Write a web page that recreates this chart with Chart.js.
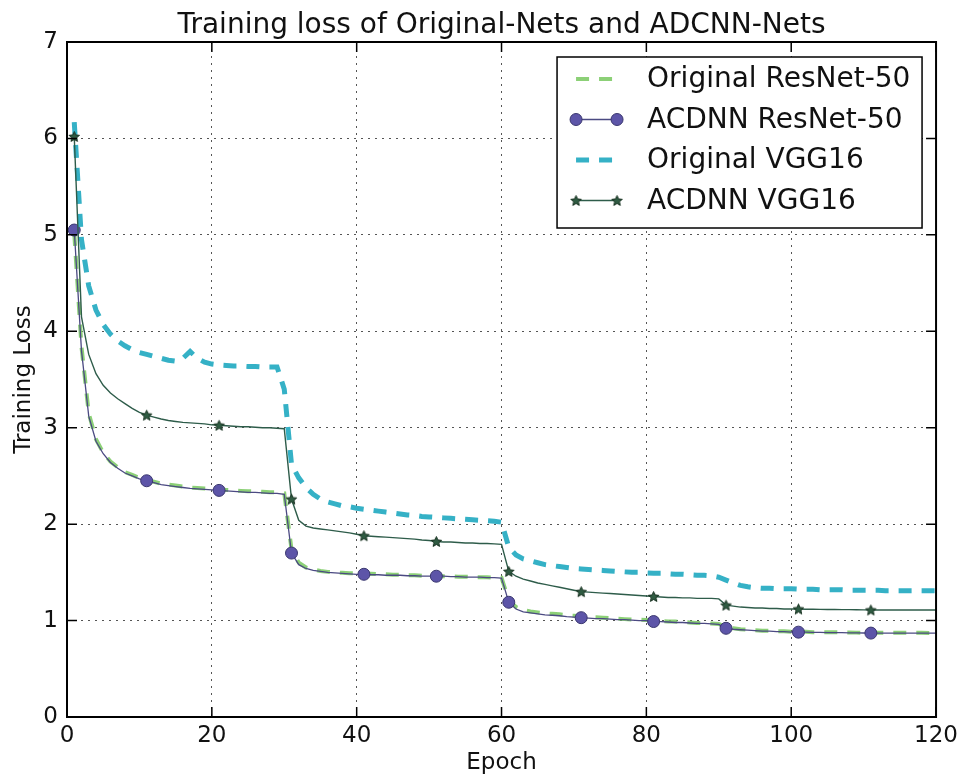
<!DOCTYPE html>
<html>
<head>
<meta charset="utf-8">
<script src="https://cdn.jsdelivr.net/npm/chart.js@4/dist/chart.umd.min.js"></script>
<style>
  body { margin: 0; background: #fff; }
  #wrap { width: 963px; height: 778px; }
</style>
</head>
<body>
<div id="wrap"><canvas id="lossChart" width="963" height="778"></canvas></div>
<script>
const epochs = [
  1, 2, 3, 4, 5, 6, 7, 8, 9, 10, 11, 12, 13, 14, 15, 16, 17, 18, 19, 20,
  21, 22, 23, 24, 25, 26, 27, 28, 29, 30, 31, 32, 33, 34, 35, 36, 37, 38, 39, 40,
  41, 42, 43, 44, 45, 46, 47, 48, 49, 50, 51, 52, 53, 54, 55, 56, 57, 58, 59, 60,
  61, 62, 63, 64, 65, 66, 67, 68, 69, 70, 71, 72, 73, 74, 75, 76, 77, 78, 79, 80,
  81, 82, 83, 84, 85, 86, 87, 88, 89, 90, 91, 92, 93, 94, 95, 96, 97, 98, 99, 100,
  101, 102, 103, 104, 105, 106, 107, 108, 109, 110, 111, 112, 113, 114, 115, 116, 117, 118, 119, 120
];

const originalResnet = [
  5.02, 3.84, 3.15, 2.88, 2.74, 2.65, 2.59, 2.54, 2.51, 2.48,
  2.46, 2.44, 2.42, 2.41, 2.40, 2.39, 2.38, 2.375, 2.37, 2.365,
  2.36, 2.355, 2.35, 2.345, 2.34, 2.34, 2.335, 2.33, 2.33, 2.32,
  1.74, 1.60, 1.55, 1.53, 1.515, 1.505, 1.50, 1.495, 1.49, 1.49,
  1.485, 1.485, 1.48, 1.48, 1.475, 1.475, 1.47, 1.47, 1.465, 1.465,
  1.46, 1.46, 1.46, 1.455, 1.455, 1.45, 1.45, 1.45, 1.445, 1.445,
  1.21, 1.14, 1.11, 1.095, 1.085, 1.075, 1.07, 1.065, 1.055, 1.05,
  1.045, 1.04, 1.035, 1.03, 1.025, 1.02, 1.015, 1.01, 1.01, 1.005,
  1.0, 0.995, 0.99, 0.99, 0.985, 0.98, 0.975, 0.975, 0.97, 0.965,
  0.93, 0.92, 0.91, 0.905, 0.90, 0.895, 0.895, 0.89, 0.89, 0.885,
  0.885, 0.885, 0.88, 0.88, 0.88, 0.878, 0.877, 0.876, 0.875, 0.875,
  0.875, 0.875, 0.874, 0.874, 0.874, 0.873, 0.873, 0.873, 0.872, 0.872
];

const acdnnResnet = [
  5.05, 3.80, 3.12, 2.86, 2.73, 2.64, 2.58, 2.53, 2.50, 2.47,
  2.45, 2.43, 2.41, 2.40, 2.39, 2.38, 2.37, 2.365, 2.36, 2.355,
  2.35, 2.345, 2.34, 2.335, 2.33, 2.33, 2.325, 2.32, 2.32, 2.31,
  1.70, 1.58, 1.54, 1.52, 1.51, 1.50, 1.495, 1.49, 1.485, 1.48,
  1.48, 1.475, 1.475, 1.47, 1.47, 1.47, 1.465, 1.465, 1.46, 1.46,
  1.46, 1.46, 1.455, 1.455, 1.45, 1.45, 1.45, 1.445, 1.445, 1.44,
  1.19, 1.12, 1.09, 1.08, 1.07, 1.06, 1.055, 1.05, 1.04, 1.035,
  1.03, 1.025, 1.02, 1.02, 1.015, 1.01, 1.01, 1.005, 1.0, 1.0,
  0.99, 0.99, 0.985, 0.98, 0.98, 0.975, 0.97, 0.97, 0.965, 0.96,
  0.92, 0.91, 0.905, 0.90, 0.895, 0.89, 0.89, 0.885, 0.885, 0.88,
  0.88, 0.88, 0.878, 0.877, 0.876, 0.875, 0.874, 0.873, 0.872, 0.871,
  0.87, 0.87, 0.87, 0.87, 0.87, 0.87, 0.87, 0.87, 0.87, 0.87
];

const originalVgg = [
  6.17, 4.95, 4.47, 4.22, 4.07, 3.97, 3.90, 3.85, 3.81, 3.78,
  3.76, 3.74, 3.72, 3.70, 3.69, 3.72, 3.79, 3.72, 3.68, 3.66,
  3.65, 3.645, 3.64, 3.64, 3.635, 3.635, 3.63, 3.63, 3.63, 3.40,
  2.62, 2.48, 2.38, 2.31, 2.26, 2.23, 2.21, 2.19, 2.18, 2.165,
  2.155, 2.145, 2.135, 2.125, 2.115, 2.105, 2.095, 2.09, 2.08, 2.075,
  2.07, 2.065, 2.06, 2.055, 2.05, 2.045, 2.04, 2.035, 2.03, 2.02,
  1.76, 1.68, 1.64, 1.62, 1.60, 1.58, 1.57, 1.56, 1.55, 1.54,
  1.535, 1.53, 1.525, 1.52, 1.515, 1.51, 1.505, 1.50, 1.50, 1.495,
  1.49, 1.49, 1.485, 1.48, 1.48, 1.475, 1.47, 1.47, 1.465, 1.45,
  1.42, 1.39, 1.365, 1.35, 1.34, 1.335, 1.335, 1.33, 1.33, 1.33,
  1.325, 1.325, 1.325, 1.32, 1.32, 1.32, 1.32, 1.315, 1.315, 1.315,
  1.315, 1.315, 1.31, 1.31, 1.31, 1.31, 1.31, 1.31, 1.31, 1.31
];

const acdnnVgg = [
  6.02, 4.15, 3.76, 3.56, 3.44, 3.36, 3.30, 3.25, 3.20, 3.16,
  3.13, 3.11, 3.09, 3.075, 3.065, 3.055, 3.05, 3.045, 3.04, 3.03,
  3.025, 3.02, 3.015, 3.01, 3.01, 3.005, 3.0, 3.0, 2.995, 2.99,
  2.26, 2.04, 1.98, 1.96, 1.95, 1.94, 1.93, 1.92, 1.91, 1.895,
  1.88, 1.875, 1.87, 1.865, 1.86, 1.855, 1.85, 1.845, 1.835, 1.83,
  1.82, 1.815, 1.815, 1.81, 1.805, 1.805, 1.80, 1.80, 1.795, 1.79,
  1.51, 1.46, 1.43, 1.41, 1.39, 1.375, 1.36, 1.345, 1.33, 1.315,
  1.30, 1.295, 1.29, 1.285, 1.28, 1.275, 1.27, 1.265, 1.26, 1.255,
  1.25, 1.245, 1.24, 1.24, 1.235, 1.235, 1.23, 1.23, 1.23, 1.225,
  1.16, 1.15, 1.14, 1.135, 1.13, 1.13, 1.125, 1.125, 1.12, 1.12,
  1.12, 1.118, 1.117, 1.116, 1.115, 1.115, 1.114, 1.113, 1.112, 1.111,
  1.11, 1.11, 1.11, 1.11, 1.11, 1.11, 1.11, 1.11, 1.11, 1.11
];

const seriesLabels = ["Original ResNet-50", "ACDNN ResNet-50", "Original VGG16", "ACDNN VGG16"];
const chartTitle = "Training loss of Original-Nets and ADCNN-Nets";
const xTicks = [0, 20, 40, 60, 80, 100, 120];
const yTicks = [0, 1, 2, 3, 4, 5, 6, 7];

const FONT = "'DejaVu Sans', 'Liberation Sans', sans-serif";

function makeStar(r, fill, stroke) {
  const c = document.createElement("canvas");
  const s = Math.ceil(r * 2 + 4);
  c.width = s;
  c.height = s;
  const g = c.getContext("2d");
  g.translate(s / 2, s / 2 + 0.5);
  g.beginPath();
  for (let i = 0; i < 10; i++) {
    const rad = i % 2 ? r * 0.45 : r;
    const a = -Math.PI / 2 + i * Math.PI / 5;
    g.lineTo(rad * Math.cos(a), rad * Math.sin(a));
  }
  g.closePath();
  g.fillStyle = fill;
  g.fill();
  g.strokeStyle = stroke;
  g.lineWidth = 1;
  g.stroke();
  return c;
}

const starImg = makeStar(5.5, "#2f5b42", "#16301f");

function toPoints(values) {
  return values.map((v, i) => ({ x: epochs[i], y: v }));
}

// markers every 10 epochs, starting at epoch 1
const everyTen = ctx => (ctx.dataIndex % 10 === 0 ? 6 : 0);

const datasets = [
  {
    label: seriesLabels[0],
    data: toPoints(originalResnet),
    borderColor: "rgba(120, 200, 95, 0.85)",
    borderWidth: 4,
    borderDash: [13, 10],
    pointRadius: 0,
    order: 4
  },
  {
    label: seriesLabels[1],
    data: toPoints(acdnnResnet),
    borderColor: "#4b4a82",
    borderWidth: 1.3,
    pointStyle: "circle",
    pointRadius: everyTen,
    pointBackgroundColor: "#5d55a8",
    pointBorderColor: "#3a376f",
    pointBorderWidth: 1,
    order: 3
  },
  {
    label: seriesLabels[2],
    data: toPoints(originalVgg),
    borderColor: "#35b1c6",
    borderWidth: 5,
    borderDash: [13, 10],
    pointRadius: 0,
    order: 2
  },
  {
    label: seriesLabels[3],
    data: toPoints(acdnnVgg),
    borderColor: "#2e5c4a",
    borderWidth: 1.4,
    pointStyle: starImg,
    pointRadius: everyTen,
    order: 1
  }
];

// matplotlib-like frame with inward ticks, title centred over the axes
const framePlugin = {
  id: "frame",
  afterDatasetsDraw(chart) {
    const { ctx, chartArea: a, scales } = chart;
    ctx.save();
    ctx.strokeStyle = "#000";
    ctx.lineWidth = 1.5;
    ctx.beginPath();
    xTicks.forEach(t => {
      const x = scales.x.getPixelForValue(t);
      ctx.moveTo(x, a.bottom); ctx.lineTo(x, a.bottom - 10);
      ctx.moveTo(x, a.top); ctx.lineTo(x, a.top + 10);
    });
    yTicks.forEach(t => {
      const y = scales.y.getPixelForValue(t);
      ctx.moveTo(a.left, y); ctx.lineTo(a.left + 10, y);
      ctx.moveTo(a.right, y); ctx.lineTo(a.right - 10, y);
    });
    ctx.stroke();
    ctx.lineWidth = 2;
    ctx.strokeRect(a.left, a.top, a.right - a.left, a.bottom - a.top);

    ctx.fillStyle = "#111";
    ctx.font = "28px " + FONT;
    ctx.textAlign = "center";
    ctx.textBaseline = "alphabetic";
    ctx.fillText(chartTitle, (a.left + a.right) / 2, a.top - 9);
    ctx.restore();
  }
};

const legendPlugin = {
  id: "boxLegend",
  afterDraw(chart) {
    const { ctx, chartArea: a } = chart;
    const left = a.right - 379;
    const top = a.top + 15;
    const w = 365;
    const h = 171;
    ctx.save();
    ctx.fillStyle = "#fff";
    ctx.fillRect(left, top, w, h);
    ctx.strokeStyle = "#000";
    ctx.lineWidth = 1.5;
    ctx.strokeRect(left, top, w, h);

    chart.data.datasets.forEach((ds, i) => {
      const y = top + 22 + i * 40.5;
      const x0 = left + 19;
      const x1 = left + 60;
      ctx.save();
      ctx.strokeStyle = ds.borderColor;
      ctx.lineWidth = ds.borderWidth;
      ctx.setLineDash(ds.borderDash || []);
      ctx.beginPath();
      ctx.moveTo(x0, y);
      ctx.lineTo(x1, y);
      ctx.stroke();
      ctx.restore();

      if (ds.pointStyle === "circle") {
        [x0, x1].forEach(x => {
          ctx.beginPath();
          ctx.arc(x, y, 6, 0, Math.PI * 2);
          ctx.fillStyle = ds.pointBackgroundColor;
          ctx.fill();
          ctx.strokeStyle = ds.pointBorderColor;
          ctx.lineWidth = 1;
          ctx.stroke();
        });
      } else if (ds.pointStyle instanceof HTMLCanvasElement) {
        const img = ds.pointStyle;
        [x0, x1].forEach(x => {
          ctx.drawImage(img, x - img.width / 2, y - img.height / 2);
        });
      }

      ctx.fillStyle = "#111";
      ctx.font = "28px " + FONT;
      ctx.textBaseline = "middle";
      ctx.textAlign = "left";
      ctx.fillText(ds.label, left + 90, y + 1);
    });
    ctx.restore();
  }
};

new Chart(document.getElementById("lossChart"), {
  type: "line",
  data: { datasets },
  plugins: [framePlugin, legendPlugin],
  options: {
    responsive: false,
    devicePixelRatio: 1,
    animation: false,
    layout: { padding: { top: 42, right: 25, bottom: 0, left: 0 } },
    plugins: {
      legend: { display: false },
      tooltip: { enabled: false },
      title: { display: false }
    },
    scales: {
      x: {
        type: "linear",
        min: 0,
        max: 120,
        afterBuildTicks: scale => { scale.ticks = xTicks.map(v => ({ value: v })); },
        afterFit: scale => { scale.height = 61; },
        grid: { color: "#555", lineWidth: 1, drawTicks: false },
        border: { display: false, dash: [2, 5] },
        ticks: { color: "#111", padding: 5, font: { family: FONT, size: 23 } },
        title: {
          display: true,
          text: "Epoch",
          color: "#111",
          padding: { top: 0, bottom: 1 },
          font: { family: FONT, size: 23 }
        }
      },
      y: {
        type: "linear",
        min: 0,
        max: 7,
        afterBuildTicks: scale => { scale.ticks = yTicks.map(v => ({ value: v })); },
        afterFit: scale => { scale.width = 67; },
        grid: { color: "#555", lineWidth: 1, drawTicks: false },
        border: { display: false, dash: [2, 5] },
        ticks: { color: "#111", padding: 9, font: { family: FONT, size: 23 } },
        title: {
          display: true,
          text: "Training Loss",
          color: "#111",
          padding: { top: 10, bottom: 0 },
          font: { family: FONT, size: 23 }
        }
      }
    }
  }
});
</script>
</body>
</html>
